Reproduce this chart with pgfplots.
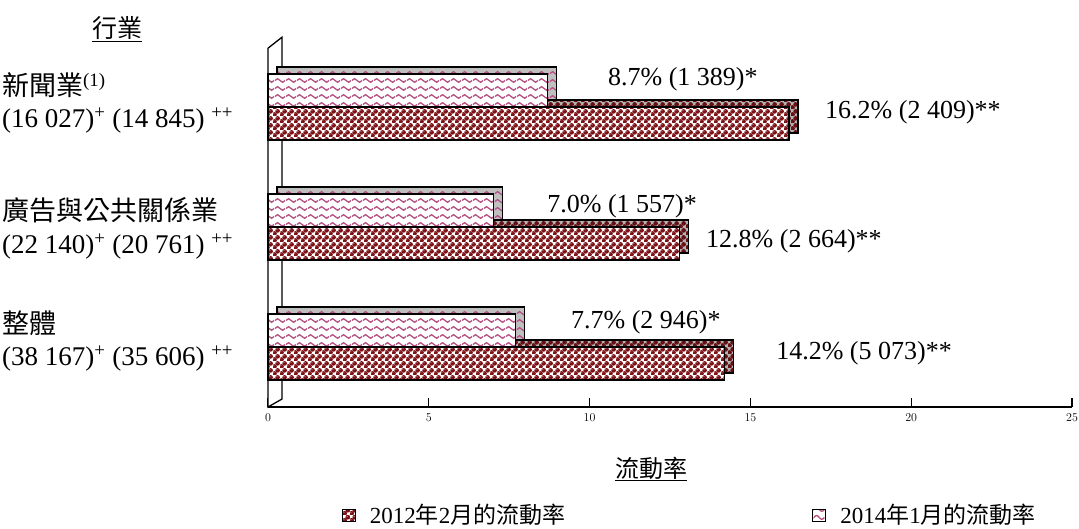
\documentclass[border=0pt]{standalone}
\usepackage{fontspec}
\setmainfont{Liberation Serif}
\newfontfamily\cjk{Noto Sans CJK TC}
\usepackage{pgfplots}
\pgfplotsset{compat=1.18}
\usetikzlibrary{patterns}

\definecolor{darkred}{RGB}{125,18,22}
\definecolor{shadowred}{RGB}{100,16,20}
\definecolor{wavepink}{RGB}{180,80,130}

\pgfdeclarepatternformonly{waves}{\pgfqpoint{0pt}{0pt}}{\pgfqpoint{11pt}{7.5pt}}{\pgfqpoint{11pt}{7.5pt}}{%
  \pgfsetlinewidth{1.4pt}%
  \pgfpathmoveto{\pgfqpoint{0pt}{3.75pt}}%
  \pgfpathcurveto{\pgfqpoint{1.8pt}{6.3pt}}{\pgfqpoint{3.7pt}{6.3pt}}{\pgfqpoint{5.5pt}{3.75pt}}%
  \pgfpathcurveto{\pgfqpoint{7.3pt}{1.2pt}}{\pgfqpoint{9.2pt}{1.2pt}}{\pgfqpoint{11pt}{3.75pt}}%
  \pgfusepath{stroke}}

\pgfdeclarepatternformonly{balls}{\pgfqpoint{0pt}{0pt}}{\pgfqpoint{7pt}{7pt}}{\pgfqpoint{7pt}{7pt}}{%
  \pgfpathcircle{\pgfqpoint{1.75pt}{1.75pt}}{2.65pt}\pgfusepath{fill}%
  \pgfpathcircle{\pgfqpoint{5.25pt}{5.25pt}}{2.65pt}\pgfusepath{fill}}
\pgfdeclarepatternformonly{hilite}{\pgfqpoint{0pt}{0pt}}{\pgfqpoint{7pt}{7pt}}{\pgfqpoint{7pt}{7pt}}{%
  \pgfpathcircle{\pgfqpoint{1.0pt}{2.6pt}}{0.55pt}\pgfusepath{fill}%
  \pgfpathcircle{\pgfqpoint{4.5pt}{6.1pt}}{0.55pt}\pgfusepath{fill}}

\newcommand{\lbl}{\fontsize{26}{30}\selectfont}
\newcommand{\clbl}{\fontsize{27}{30}\selectfont}

\begin{document}
\begin{tikzpicture}[x=1pt,y=1pt]
\useasboundingbox (0,0) rectangle (1079,528);

% header and category labels
\node[anchor=base, font=\fontsize{25}{28}\selectfont, inner sep=0pt] at (117,490) {\cjk\underline{行業}};
\node[anchor=base west, font=\clbl, inner sep=0pt] at (2,432) {{\cjk 新聞業}\textsuperscript{(1)}};
\node[anchor=base west, font=\clbl, inner sep=0pt] at (2,400) {(16 027)\textsuperscript{+} (14 845) \textsuperscript{++}};
\node[anchor=base west, font=\clbl, inner sep=0pt] at (2,307) {{\cjk 廣告與公共關係業}};
\node[anchor=base west, font=\clbl, inner sep=0pt] at (2,274) {(22 140)\textsuperscript{+} (20 761) \textsuperscript{++}};
\node[anchor=base west, font=\clbl, inner sep=0pt] at (2,194) {{\cjk 整體}};
\node[anchor=base west, font=\clbl, inner sep=0pt] at (2,162) {(38 167)\textsuperscript{+} (35 606) \textsuperscript{++}};
\node[anchor=base, font=\fontsize{24}{28}\selectfont, inner sep=0pt] at (651,51) {\cjk\underline{流動率}};

\begin{axis}[
  at={(268pt,121pt)}, anchor=south west,
  scale only axis, width=804pt, height=360pt,
  xmin=0, xmax=25, ymin=-0.5, ymax=2.5,
  axis x line*=bottom, axis y line=none,
  x axis line style={line width=1.3pt},
  xtick={0,5,10,15,20,25}, ytick=\empty,
  tick align=inside, major tick length=9pt,
  xtick style={black, line width=1.2pt},
  xticklabel style={font=\fontsize{13}{13}\selectfont, yshift=-3pt},
  clip=false,
  xbar, bar width=0.275,
  legend style={at={(0.092,-0.30)}, anchor=west, draw=none, fill=none,
    inner sep=0pt, font=\fontsize{23}{26}\selectfont,
    /tikz/every odd column/.append style={column sep=12pt},
    /tikz/every even column/.append style={column sep=245pt}},
  legend columns=2,
  legend image code/.code={\draw[#1, line width=0.8pt, draw=black] (0pt,-6pt) rectangle (13pt,6pt);},
]
% left wall
\draw[line width=1.3pt, fill=white] (axis cs:0,-0.5) -- (axis cs:0,2.49)
  -- ([shift={(14pt,11pt)}]axis cs:0,2.49) -- ([shift={(14pt,8pt)}]axis cs:0,-0.5) -- cycle;

% depth (3D) faces
\addplot[xbar, bar shift=-0.1375, draw=black, line width=1.2pt, fill=gray!60,
  postaction={pattern=balls, pattern color=shadowred}, xshift=9pt, yshift=7pt, forget plot]
  coordinates {(14.2,0) (12.8,1) (16.2,2)};
\addplot[xbar, bar shift=0.1375, draw=black, line width=1.2pt, fill=gray!50,
  postaction={pattern=waves, pattern color=wavepink}, xshift=9pt, yshift=7pt, forget plot]
  coordinates {(7.7,0) (7.0,1) (8.7,2)};

% front faces
\addplot[xbar, bar shift=-0.1375, draw=black, line width=1.2pt, fill=white,
  postaction={pattern=balls, pattern color=darkred},
  postaction={pattern=hilite, pattern color=white!75!darkred}]
  coordinates {(14.2,0) (12.8,1) (16.2,2)};
\addlegendentry{2012{\cjk 年}2{\cjk 月的流動率}}
\addplot[xbar, bar shift=0.1375, draw=black, line width=1.2pt, fill=white,
  postaction={pattern=waves, pattern color=wavepink}]
  coordinates {(7.7,0) (7.0,1) (8.7,2)};
\addlegendentry{2014{\cjk 年}1{\cjk 月的流動率}}

% value labels
\node[anchor=base west, font=\lbl, inner sep=0pt] at (axis cs:10.57,2.183) {8.7\% (1 389)*};
\node[anchor=base west, font=\lbl, inner sep=0pt] at (axis cs:17.32,1.908) {16.2\% (2 409)**};
\node[anchor=base west, font=\lbl, inner sep=0pt] at (axis cs:8.68,1.125) {7.0\% (1 557)*};
\node[anchor=base west, font=\lbl, inner sep=0pt] at (axis cs:13.62,0.833) {12.8\% (2 664)**};
\node[anchor=base west, font=\lbl, inner sep=0pt] at (axis cs:9.42,0.158) {7.7\% (2 946)*};
\node[anchor=base west, font=\lbl, inner sep=0pt] at (axis cs:15.8,-0.108) {14.2\% (5 073)**};
\end{axis}
\end{tikzpicture}
\end{document}
